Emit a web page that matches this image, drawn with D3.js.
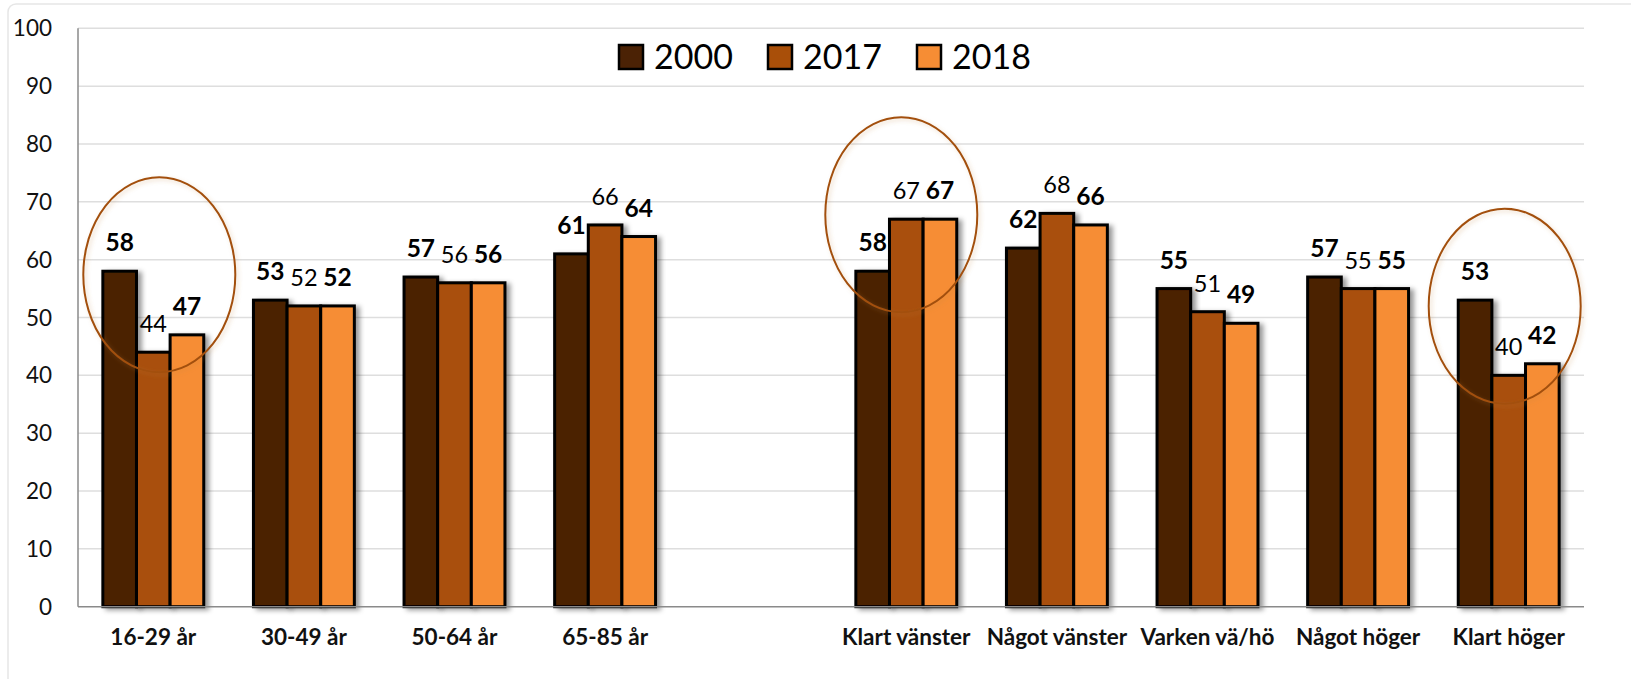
<!DOCTYPE html>
<html>
<head>
<meta charset="utf-8">
<script src="https://cdn.jsdelivr.net/npm/d3@7"></script>
<style>
  body { margin: 0; background: #fff; }
  svg { display: block; font-family: Lato, "Open Sans", sans-serif; }
</style>
</head>
<body>
<div class="chart"></div>
<script>
const width = 1631
const height = 679

// data ("" is the empty slot between the two blocks)
const categories = ["16-29 år", "30-49 år", "50-64 år", "65-85 år", "", "Klart vänster", "Något vänster", "Varken vä/hö", "Något höger", "Klart höger"];
const years = ["2000", "2017", "2018"];
const values2000 = [58, 53, 57, 61, null, 58, 62, 55, 57, 53];
const values2017 = [44, 52, 56, 66, null, 67, 68, 51, 55, 40];
const values2018 = [47, 52, 56, 64, null, 67, 66, 49, 55, 42];
const yTicks = [0, 10, 20, 30, 40, 50, 60, 70, 80, 90, 100];
const circled = ["16-29 år", "Klart vänster", "Klart höger"];

const colors = ["#4b2205", "#a94f09", "#f68d34"];
const boldYear = {"2000": true, "2017": false, "2018": true};

const margin = {top: 28.3, right: 47, bottom: 72.3, left: 78};
// hand-drawn rings are not exactly centred on their groups
const ringNudge = [[6, 3.5], [-5, -4.5], [-4, 6]];

function drawChart() {
    const series = [values2000, values2017, values2018];
    const rows = categories.map((c, i) => ({
        cat: c,
        vals: years.map((yr, k) => ({year: yr, value: series[k][i], k: k}))
    }));

    const x = d3.scaleBand()
    .domain(categories)
    .range([margin.left, width - margin.right])
    .paddingInner(0.33)
    .paddingOuter(0.165);

    const xs = d3.scaleBand()
    .domain(years)
    .range([0, x.bandwidth()]);

    const y = d3.scaleLinear()
    .domain([0, 100])
    .range([height - margin.bottom, margin.top]);

    const color = d3.scaleOrdinal()
    .domain(years)
    .range(colors);

    const svg = d3.create("svg")
    .attr("width", width)
    .attr("height", height)
    .attr("viewBox", [0, 0, width, height]);

    const defs = svg.append("defs");
    defs.append("filter")
    .attr("id", "barShadow")
    .attr("x", "-20%").attr("y", "-10%").attr("width", "150%").attr("height", "130%")
    .append("feDropShadow")
    .attr("dx", 4).attr("dy", 2)
    .attr("stdDeviation", 2.5)
    .attr("flood-color", "#000")
    .attr("flood-opacity", 0.4);

    defs.append("filter")
    .attr("id", "ringGlow")
    .attr("x", "-20%").attr("y", "-20%").attr("width", "140%").attr("height", "140%")
    .append("feDropShadow")
    .attr("dx", 2).attr("dy", 2)
    .attr("stdDeviation", 2)
    .attr("flood-color", "#c08040")
    .attr("flood-opacity", 0.3);

    // faint chart frame
    svg.append("rect")
    .attr("x", 8).attr("y", 4)
    .attr("width", width + 40).attr("height", height + 40)
    .attr("rx", 8)
    .attr("fill", "none")
    .attr("stroke", "#e6e6e6")
    .attr("stroke-width", 1.5);

    // gridlines
    svg.append("g")
    .selectAll("line")
    .data(yTicks.filter(d => d > 0))
    .join("line")
    .attr("x1", margin.left)
    .attr("x2", width - margin.right)
    .attr("y1", d => y(d))
    .attr("y2", d => y(d))
    .attr("stroke", "#dedede")
    .attr("stroke-width", 1.5);

    // y tick labels
    svg.append("g")
    .selectAll("text")
    .data(yTicks)
    .join("text")
    .attr("x", margin.left - 26)
    .attr("y", d => y(d))
    .attr("dy", "0.36em")
    .attr("text-anchor", "end")
    .style("font-size", "22.5px")
    .attr("fill", "#111")
    .text(d => d);

    // bars
    const groups = svg.append("g")
    .selectAll("g")
    .data(rows.filter(r => r.cat !== ""))
    .join("g")
    .attr("transform", d => `translate(${x(d.cat)},0)`);

    groups.selectAll("rect")
    .data(d => d.vals)
    .join("rect")
    .attr("x", d => xs(d.year))
    .attr("y", d => y(d.value))
    .attr("width", xs.bandwidth())
    .attr("height", d => y(0) - y(d.value))
    .attr("fill", d => color(d.year))
    .attr("stroke", "#000")
    .attr("stroke-width", 3)
    .attr("filter", "url(#barShadow)");

    groups.selectAll("text")
    .data(d => d.vals)
    .join("text")
    .attr("x", d => xs(d.year) + xs.bandwidth() / 2)
    .attr("y", d => y(d.value) - 20)
    .attr("text-anchor", "middle")
    .style("font-size", d => boldYear[d.year] ? "24.5px" : "23.5px")
    .style("font-weight", d => boldYear[d.year] ? "bold" : "normal")
    .attr("fill", "#000")
    .text(d => d.value);

    // axes lines
    svg.append("line")
    .attr("x1", margin.left).attr("x2", margin.left)
    .attr("y1", y(100)).attr("y2", y(0))
    .attr("stroke", "#8a8a8a")
    .attr("stroke-width", 1.5);

    svg.append("line")
    .attr("x1", margin.left).attr("x2", width - margin.right)
    .attr("y1", y(0)).attr("y2", y(0))
    .attr("stroke", "#8a8a8a")
    .attr("stroke-width", 1.5);

    // category labels
    svg.append("g")
    .selectAll("text")
    .data(categories.filter(c => c !== ""))
    .join("text")
    .attr("x", d => x(d) + x.bandwidth() / 2)
    .attr("y", y(0) + 38)
    .attr("text-anchor", "middle")
    .style("font-size", "22.5px")
    .style("font-weight", "bold")
    .attr("fill", "#111")
    .text(d => d);

    // rings around the highlighted groups
    svg.append("g")
    .selectAll("ellipse")
    .data(rows.filter(r => circled.includes(r.cat)))
    .join("ellipse")
    .attr("cx", (d, i) => x(d.cat) + x.bandwidth() / 2 + ringNudge[i][0])
    .attr("cy", (d, i) => y(d3.max(d.vals, v => v.value)) + ringNudge[i][1])
    .attr("rx", 76)
    .attr("ry", 97.5)
    .attr("fill", "none")
    .attr("stroke", "#a3500f")
    .attr("stroke-width", 2)
    .attr("filter", "url(#ringGlow)");

    // legend
    const legend = svg.append("g")
    .selectAll("g")
    .data(years)
    .join("g")
    .attr("transform", (d, i) => `translate(${619 + i * 149}, 45)`);

    legend.append("rect")
    .attr("width", 24)
    .attr("height", 24)
    .attr("fill", d => color(d))
    .attr("stroke", "#000")
    .attr("stroke-width", 2.5);

    legend.append("text")
    .attr("x", 35)
    .attr("y", 23.5)
    .style("font-size", "34px")
    .attr("fill", "#000")
    .text(d => d);

    document.querySelector(".chart").append(svg.node());
}

drawChart();
</script>
</body>
</html>
